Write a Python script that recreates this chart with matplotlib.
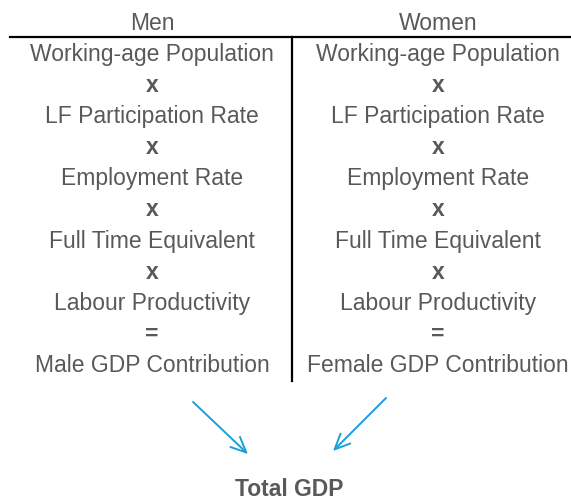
import matplotlib.pyplot as plt
from matplotlib.patches import FancyArrowPatch

plt.rcParams["font.family"] = ["Liberation Sans", "DejaVu Sans"]

headers = ["Men", "Women"]
men_rows = ["Working-age Population", "x", "LF Participation Rate", "x",
            "Employment Rate", "x", "Full Time Equivalent", "x",
            "Labour Productivity", "=", "Male GDP Contribution"]
women_rows = ["Working-age Population", "x", "LF Participation Rate", "x",
              "Employment Rate", "x", "Full Time Equivalent", "x",
              "Labour Productivity", "=", "Female GDP Contribution"]
total_label = "Total GDP"

TEXT = "#595959"
ARROW = "#1a9fd9"
FS = 16.5

fig = plt.figure(figsize=(5.71, 4.99), dpi=100)
ax = fig.add_axes([0, 0, 1, 1])
ax.set_xlim(0, 571)
ax.set_ylim(499, 0)
ax.axis("off")

col_x = [152, 438]
for cx, h in zip(col_x, headers):
    ax.text(cx, 23, h, ha="center", va="center", fontsize=FS, color=TEXT)

# table rules
ax.plot([10, 571], [37, 37], color="black", lw=1.6)
ax.plot([292, 292], [37, 381], color="black", lw=1.6)

row_y0, row_dy = 54.5, 31.1
for cx, rows in zip(col_x, [men_rows, women_rows]):
    for i, label in enumerate(rows):
        op = label in ("x", "=")
        ax.text(cx, row_y0 + i * row_dy, label, ha="center", va="center",
                fontsize=FS, color=TEXT, fontweight="bold" if op else "normal")

for (x0, y0), (x1, y1) in [((191, 400), (250, 456)), ((388, 396), (331, 453))]:
    ax.add_patch(FancyArrowPatch((x0, y0), (x1, y1),
                                 arrowstyle="->,head_length=11,head_width=5",
                                 color=ARROW, lw=1.4, mutation_scale=1))

ax.text(289, 489, total_label, ha="center", va="center", fontsize=FS,
        fontweight="bold", color=TEXT)

fig.savefig("out.png", dpi=100)
